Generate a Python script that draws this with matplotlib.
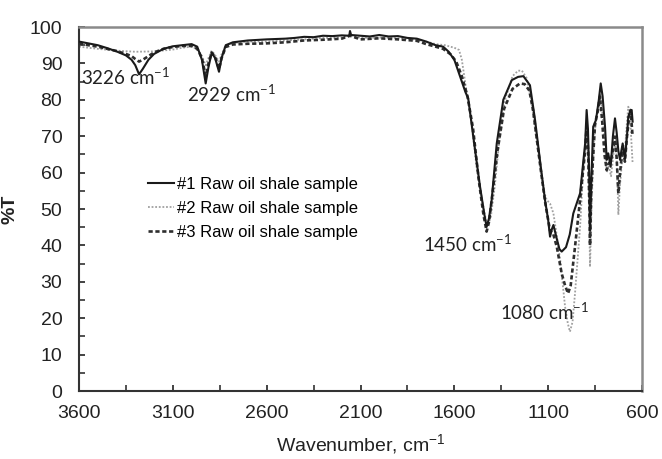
import matplotlib
matplotlib.use("Agg")
import matplotlib.pyplot as plt
from matplotlib.ticker import MultipleLocator, FixedLocator

plt.rcParams['font.family'] = ['Liberation Sans', 'DejaVu Sans']
plt.rcParams['mathtext.default'] = 'regular'

# ---- data ----
wn1 = [3600, 3550, 3500, 3450, 3400, 3350, 3320, 3300, 3280, 3260, 3230, 3200, 3150, 3100, 3050,
       3000, 2970, 2945, 2925, 2910, 2893, 2875, 2854, 2840, 2818, 2780, 2700, 2600, 2500, 2450,
       2400, 2350, 2300, 2250, 2200, 2160, 2156, 2150, 2100, 2050, 2000, 1950, 1900, 1850, 1800,
       1750, 1700, 1660, 1630, 1600, 1570, 1540, 1526, 1499, 1463, 1440, 1428, 1415, 1401, 1374,
       1339, 1294, 1260, 1232, 1197, 1170, 1144, 1117, 1100, 1090, 1080, 1072, 1055, 1040, 1028,
       1005, 985, 966, 930, 903, 895, 888, 881, 877, 870, 860, 845, 830, 820, 810, 797,
       788, 780, 767, 755, 744, 735, 726, 717, 710, 703, 691, 680, 673, 662, 655, 650]
t1 = [96.0, 95.5, 95.0, 94.2, 93.3, 92.2, 91.0, 89.5, 87.0, 88.5, 91.0, 92.6, 94.0, 94.7, 95.0,
      95.3, 94.6, 91.0, 84.5, 89.0, 92.9, 91.5, 87.7, 91.5, 95.0, 95.8, 96.3, 96.6, 96.8, 97.0,
      97.3, 97.2, 97.6, 97.5, 97.7, 97.6, 98.9, 97.8, 97.6, 97.4, 97.8, 97.4, 97.5, 97.0, 96.8,
      96.0, 95.0, 94.6, 93.2, 91.0, 86.5, 82.0, 80.4, 69.9, 56.1, 48.5, 45.1, 47.5, 52.5, 68.0,
      80.0, 85.4, 86.3, 86.5, 84.0, 74.5, 63.5, 52.5, 47.0, 42.4, 44.5, 45.6, 42.0, 39.0, 38.3,
      39.5, 43.0, 48.8, 54.3, 68.0, 77.2, 72.0, 58.9, 44.0, 58.0, 72.6, 74.5, 80.0, 84.5, 81.0, 72.6,
      63.5, 65.3, 61.6, 70.0, 74.9, 71.0, 66.0, 63.5, 66.0, 68.0, 63.9, 70.0, 75.4, 77.0, 77.2, 74.0]

wn2 = [3600, 3550, 3500, 3400, 3300, 3200, 3100, 3050, 3000, 2970, 2945, 2925, 2910, 2893, 2875,
       2854, 2840, 2818, 2780, 2700, 2600, 2500, 2400, 2300, 2200, 2156, 2100, 2000, 1900, 1800,
       1750, 1700, 1650, 1600, 1575, 1560, 1540, 1510, 1480, 1450, 1430, 1420, 1405, 1385, 1360,
       1330, 1290, 1260, 1240, 1215, 1190, 1165, 1140, 1120, 1108, 1090, 1072, 1055, 1036, 1010,
       995, 984, 970, 957, 930, 913, 900, 893, 885, 877, 868, 855, 840, 824, 810, 797, 788,
       778, 765, 750, 740, 733, 726, 718, 705, 691, 680, 673, 665, 658, 650]
t2 = [94.6, 94.3, 94.0, 93.5, 93.2, 93.3, 93.8, 94.3, 94.6, 94.0, 92.0, 89.5, 91.5, 93.5, 92.3,
      90.5, 92.5, 95.0, 95.6, 96.0, 96.0, 96.3, 96.6, 97.0, 97.1, 97.8, 97.0, 97.1, 96.9, 96.5,
      96.0, 95.3, 95.0, 94.3, 93.7, 91.0, 84.0, 74.0, 61.0, 52.0, 46.5, 45.5, 48.0, 56.0, 69.0,
      80.0, 86.5, 88.0, 88.0, 86.0, 80.0, 70.0, 61.0, 54.5, 52.5, 51.5, 48.8, 43.0, 36.0, 23.2,
      18.5, 16.3, 19.0, 26.8, 45.1, 60.7, 68.0, 70.0, 60.0, 34.1, 52.0, 70.0, 76.0, 81.8, 76.0, 66.0,
      60.0, 62.0, 59.0, 66.0, 69.0, 62.0, 48.4, 56.0, 64.0, 66.0, 74.0, 78.1, 76.0, 70.0, 62.5]

wn3 = [3600, 3550, 3500, 3400, 3350, 3320, 3300, 3280, 3260, 3230, 3200, 3150, 3100, 3050, 3000,
       2970, 2945, 2925, 2910, 2893, 2875, 2854, 2840, 2818, 2780, 2700, 2600, 2500, 2400, 2300,
       2200, 2156, 2100, 2000, 1900, 1800, 1750, 1700, 1660, 1620, 1590, 1560, 1530, 1500, 1470,
       1445, 1428, 1415, 1395, 1370, 1335, 1290, 1250, 1225, 1200, 1180, 1160, 1140, 1115, 1100,
       1090, 1075, 1054, 1028, 1010, 994, 980, 957, 930, 903, 895, 887, 880, 877, 870, 850, 835,
       824, 812, 800, 788, 778, 767, 755, 744, 735, 726, 717, 703, 691, 680, 668, 661, 650]
t3 = [95.5, 95.0, 94.6, 93.4, 92.6, 92.0, 91.2, 90.5, 91.0, 92.0, 93.0, 94.0, 94.5, 94.8, 94.8,
      94.0, 91.5, 86.5, 90.0, 93.0, 91.8, 88.5, 91.5, 94.5, 95.2, 95.4, 95.5, 95.8, 96.3, 96.5,
      96.8, 97.6, 96.6, 96.9, 96.6, 96.2, 95.3, 94.6, 94.0, 92.5, 90.5, 86.5, 81.0, 72.0, 58.0,
      48.5, 43.8, 46.5, 55.0, 66.0, 77.5, 83.0, 84.5, 84.3, 82.5, 77.0, 69.0, 61.0, 51.5, 47.0,
      44.0, 43.5, 39.6, 32.3, 29.0, 26.8, 29.0, 39.6, 52.5, 66.0, 72.6, 66.0, 50.0, 40.0, 56.0, 73.5, 77.0,
      80.9, 74.0, 65.0, 60.7, 62.5, 63.0, 66.0, 69.9, 64.0, 54.3, 60.0, 67.0, 63.0, 70.0, 75.5, 77.2, 70.0]

labels = ['#1 Raw oil shale sample', '#2 Raw oil shale sample', '#3 Raw oil shale sample']
x_ticks = [3600, 3100, 2600, 2100, 1600, 1100, 600]
x_minor = [3350, 2850, 2350, 1850, 1350, 850]
peak_labels = ['3226', '2929', '1450', '1080']
peak_pos = [(3590, 86.3), (3025, 81.6), (1767, 40.4), (1357, 21.7)]

fig = plt.figure(figsize=(6.62, 4.59), dpi=100)
ax = fig.add_axes([79/662, 1-391/459, (642-79)/662, (391-27)/459])

ax.plot(wn2, t2, color='#a0a0a0', lw=1.3, linestyle=(0, (1, 1)), label=labels[1], zorder=2)
ax.plot(wn3, t3, color='#2e2e2e', lw=1.9, linestyle=(0, (1.6, 1.0)), label=labels[2], zorder=3)
ax.plot(wn1, t1, color='#1a1a1a', lw=1.5, linestyle='-', label=labels[0], zorder=4)

ax.set_xlim(3600, 600)
ax.set_ylim(0, 100)
ax.xaxis.set_major_locator(FixedLocator(x_ticks))
ax.xaxis.set_minor_locator(FixedLocator(x_minor))
ax.yaxis.set_major_locator(MultipleLocator(10))
ax.yaxis.set_minor_locator(MultipleLocator(5))
ax.tick_params(axis='both', which='both', direction='in', length=4, width=1.2, color='#333333')
ax.tick_params(axis='both', which='major', labelsize=14, colors='#222222')
ax.tick_params(axis='x', which='major', pad=10)
ax.tick_params(axis='y', which='major', pad=12)
for s in ['left', 'bottom']:
    ax.spines[s].set_color('#333333')
    ax.spines[s].set_linewidth(1.5)
for s in ['top', 'right']:
    ax.spines[s].set_color('#8a8a8a')
    ax.spines[s].set_linewidth(1.8)

ax.set_xlabel('Wavenumber, cm$^{-1}$', fontsize=14, color='#222222', labelpad=7)
ax.set_ylabel('%T', fontsize=14, fontweight='bold', color='#222222', labelpad=8)

for lab, (x, y) in zip(peak_labels, peak_pos):
    ax.text(x, y, lab + ' cm$^{-1}$', fontsize=13.5, family=['Lato', 'DejaVu Sans'],
            ha='left', va='center', color='#222222', zorder=5)

h, l = ax.get_legend_handles_labels()
order = [2, 0, 1]
leg = ax.legend([h[i] for i in order], [l[i] for i in order], loc='upper left',
                bbox_to_anchor=((141-79)/563, (391-170)/364), frameon=False, fontsize=12,
                handlelength=1.6, handletextpad=0.15, labelspacing=0.55, borderaxespad=0)

fig.savefig('out.png', dpi=100)
